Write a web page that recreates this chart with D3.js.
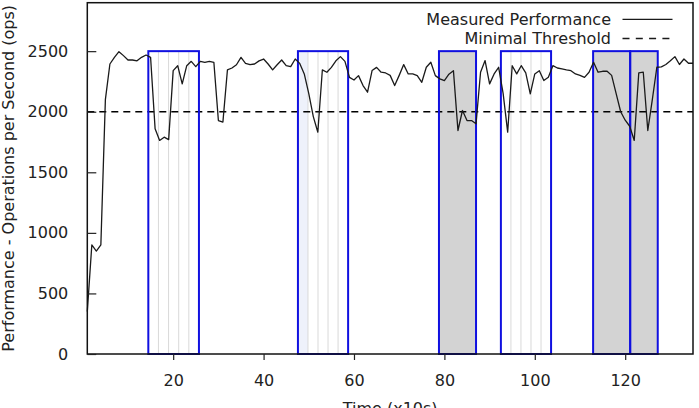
<!DOCTYPE html>
<html><head><meta charset="utf-8">
<script src="https://cdn.jsdelivr.net/npm/d3@7"></script>
<style>
html,body{margin:0;padding:0;background:#fff;}
svg{display:block;font-family:"DejaVu Sans",sans-serif;}
</style></head>
<body>
<svg id="chart" width="699" height="408"></svg>
<script>
// Measured performance (ops), one sample per time step starting at t = 1 (x10s)
const performance = [
  350, 900, 850, 900, 2100, 2394, 2449, 2496, 2463, 2427,
  2427, 2420, 2449, 2468, 2449, 1859, 1763, 1790, 1770, 2339,
  2380, 2230, 2380, 2416, 2372, 2416, 2408, 2416, 2408, 1927,
  1914, 2345, 2361, 2388, 2449, 2400, 2388, 2394, 2420, 2435,
  2394, 2345, 2388, 2427, 2380, 2372, 2435, 2399, 2312, 2150,
  1960, 1831, 2345, 2326, 2366, 2420, 2455, 2416, 2284, 2262,
  2298, 2216, 2161, 2340, 2366, 2326, 2320, 2300, 2216, 2300,
  2389, 2312, 2312, 2298, 2243, 2367, 2408, 2298, 2271, 2257,
  2310, 2339, 1845, 2010, 1927, 1927, 1900, 2326, 2422, 2230,
  2312, 2367, 2150, 1831, 2380, 2312, 2380, 2320, 2147, 2312,
  2339, 2257, 2284, 2380, 2361, 2353, 2345, 2339, 2312, 2300,
  2284, 2326, 2408, 2326, 2334, 2334, 2300, 2150, 2000, 1930,
  1880, 1763, 2320, 2326, 1845, 2100, 2367, 2370, 2390, 2420,
  2455, 2390, 2435, 2400, 2400
];
const startTime = 1;
const threshold = 2000;

// Highlighted intervals [start, end] in time units, top value, kind
const intervalStarts = [14.5, 47.6, 78.8, 92.5, 112.9, 121.1];
const intervalEnds   = [25.7, 58.7, 87.0, 103.6, 121.1, 127.2];
const intervalKinds  = ["striped", "striped", "filled", "striped", "filled", "filled"];
const intervalTop = 2500;

const xTicks = [20, 40, 60, 80, 100, 120];
const yTicks = [0, 500, 1000, 1500, 2000, 2500];
const xDomain = [1, 135];
const yDomain = [0, 2900];

const legendLabels = ["Measured Performance", "Minimal Threshold"];
const xLabel = "Time (x10s)";
const yLabel = "Performance - Operations per Second (ops)";

const svg = d3.select("#chart");
const L = 87.3, R = 693, T = 2.7, B = 354;
const x = d3.scaleLinear().domain(xDomain).range([L, R]);
const y = d3.scaleLinear().domain(yDomain).range([B, T]);

const intervals = intervalStarts.map((s, i) => ({s, e: intervalEnds[i], kind: intervalKinds[i]}));

// interval fills
const g = svg.append("g");
intervals.forEach((iv, i) => {
  const x0 = x(iv.s), x1 = x(iv.e);
  g.append("rect").attr("x", x0).attr("y", y(intervalTop))
    .attr("width", x1 - x0).attr("height", y(0) - y(intervalTop))
    .attr("fill", iv.kind === "filled" ? "#d3d3d3" : "#ffffff");
  if (iv.kind === "striped") {
    const w = (x1 - x0) / 5;
    if (i === 1) {
      g.append("rect").attr("x", x0).attr("y", y(intervalTop)).attr("width", w)
        .attr("height", y(0) - y(intervalTop)).attr("fill", "#eef1fb");
    }
    for (let k = 1; k < 5; k++) {
      g.append("line").attr("x1", x0 + k * w).attr("x2", x0 + k * w)
        .attr("y1", y(intervalTop)).attr("y2", y(0))
        .attr("stroke", "#d9d9d9").attr("stroke-width", 1);
    }
  }
});

// threshold
svg.append("line").attr("x1", L).attr("x2", R)
  .attr("y1", y(threshold)).attr("y2", y(threshold))
  .attr("stroke", "#000").attr("stroke-width", 1.4).attr("stroke-dasharray", "7,5");

// interval outlines
intervals.forEach(iv => {
  svg.append("rect").attr("x", x(iv.s)).attr("y", y(intervalTop))
    .attr("width", x(iv.e) - x(iv.s)).attr("height", y(0) - y(intervalTop))
    .attr("fill", "none").attr("stroke", "#1010e0").attr("stroke-width", 2);
});

// performance line
const line = d3.line().x((d, i) => x(startTime + i)).y(d => y(d));
svg.append("path").datum(performance).attr("d", line)
  .attr("fill", "none").attr("stroke", "#1a1a1a").attr("stroke-width", 1.3)
  .attr("stroke-linejoin", "round");

// frame
svg.append("rect").attr("x", L).attr("y", T).attr("width", R - L).attr("height", B - T)
  .attr("fill", "none").attr("stroke", "#111").attr("stroke-width", 1.5);

// axes
const xAxis = d3.axisBottom(x).tickValues(xTicks).tickFormat(d3.format("d"))
  .tickSizeInner(6).tickSizeOuter(0).tickPadding(15);
const gx = svg.append("g").attr("transform", `translate(0,${B})`).call(xAxis);
gx.select(".domain").remove();
gx.selectAll("text").attr("font-size", 16).attr("fill", "#222").attr("font-family", "DejaVu Sans");
gx.selectAll("line").attr("stroke", "#222").attr("stroke-width", 1.2);

const yAxis = d3.axisLeft(y).tickValues(yTicks).tickFormat(d3.format("d"))
  .tickSizeInner(-9).tickSizeOuter(0).tickPadding(19);
const gy = svg.append("g").attr("transform", `translate(${L},0)`).call(yAxis);
gy.select(".domain").remove();
gy.selectAll("text").attr("font-size", 16).attr("fill", "#222").attr("font-family", "DejaVu Sans");
gy.selectAll("line").attr("stroke", "#222").attr("stroke-width", 1.2);

// axis labels
svg.append("text").attr("x", (L + R) / 2).attr("y", 413.5).attr("text-anchor", "middle")
  .attr("font-size", 16).attr("fill", "#222").text(xLabel);
svg.append("text").attr("transform", `translate(13.5,${(T + B) / 2}) rotate(-90)`)
  .attr("text-anchor", "middle").attr("font-size", 16).attr("fill", "#222").text(yLabel);

// legend
const legY = [19.3, 38.5];
legendLabels.forEach((lab, i) => {
  svg.append("text").attr("x", 611).attr("y", legY[i]).attr("dy", "0.36em")
    .attr("text-anchor", "end").attr("font-size", 16).attr("fill", "#222").text(lab);
  const ln = svg.append("line").attr("x1", 622.5).attr("x2", 672.5)
    .attr("y1", legY[i]).attr("y2", legY[i]).attr("stroke", "#1a1a1a").attr("stroke-width", 1.3);
  if (i === 1) ln.attr("stroke-dasharray", "7,6.3");
});
</script>
</body></html>
